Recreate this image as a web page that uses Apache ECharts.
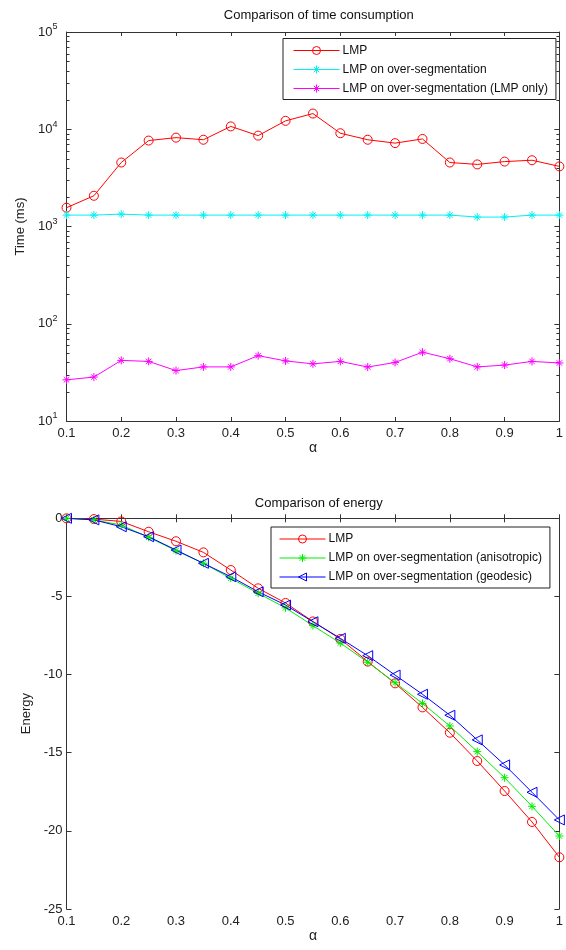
<!DOCTYPE html>
<html>
<head>
<meta charset="utf-8">
<script src="https://cdn.jsdelivr.net/npm/echarts@6/dist/echarts.min.js"></script>
<style>
html,body{margin:0;padding:0;background:#fff;}
#c{width:566px;height:950px;}
</style>
</head>
<body>
<div id="c"></div>
<script>
// ---- data ----
var alpha = [0.1,0.15,0.2,0.25,0.3,0.35,0.4,0.45,0.5,0.55,0.6,0.65,0.7,0.75,0.8,0.85,0.9,0.95,1.0];
var xTicks = ['0.1','0.2','0.3','0.4','0.5','0.6','0.7','0.8','0.9','1'];
var timeLMP = [1560,2070,4550,7650,8200,7800,10700,8600,12200,14500,9100,7800,7200,7950,4550,4350,4650,4800,4150];
var timeOverSeg = [1310,1310,1340,1310,1310,1310,1310,1310,1310,1310,1310,1310,1310,1310,1310,1250,1250,1310,1310];
var timeLMPOnly = [26.5,28.3,42,41,33,36,36,47,41.5,38.7,41,35.9,40,51,43.7,36,37.6,41,39.5];
var energyLMP = [0,-0.05,-0.2,-0.86,-1.47,-2.18,-3.31,-4.48,-5.42,-6.6,-7.72,-9.17,-10.56,-12.1,-13.72,-15.53,-17.45,-19.43,-21.69];
var energyAniso = [0,-0.1,-0.43,-1.22,-2.07,-2.88,-3.84,-4.8,-5.73,-6.87,-7.98,-9.21,-10.52,-11.84,-13.29,-14.93,-16.6,-18.43,-20.33];
var energyGeo = [0,-0.1,-0.54,-1.18,-2.03,-2.88,-3.74,-4.7,-5.55,-6.62,-7.68,-8.79,-10.03,-11.26,-12.6,-14.18,-15.78,-17.53,-19.3];
var timeNames = ['LMP','LMP on over-segmentation','LMP on over-segmentation (LMP only)'];
var energyNames = ['LMP','LMP on over-segmentation (anisotropic)','LMP on over-segmentation (geodesic)'];

var FONT = '"Liberation Sans", Arial, sans-serif';
var AX = '#333';
var STAR = 'path://M0,5L10,5M5,0L5,10M1.6,1.6L8.4,8.4M8.4,1.6L1.6,8.4';

function pair(a, b){ return a.map(function(v,i){ return [v, b[i]]; }); }

function xAxes(grid, gap){
  var base = {
    type:'value', gridIndex:grid, min:0.1, max:1, interval:0.1,
    axisLine:{show:true, lineStyle:{color:AX, width:1}},
    axisTick:{show:true, inside:true, length:4, lineStyle:{color:AX}},
    splitLine:{show:false}
  };
  var bottom = Object.assign({}, base, {
    position:'bottom',
    name:'\u03B1', nameLocation:'middle', nameGap:gap,
    nameTextStyle:{fontFamily:FONT, fontSize:14, color:'#222'},
    axisLabel:{fontFamily:FONT, fontSize:13, color:'#222', margin:6,
      formatter:function(v){ return xTicks[Math.round((v-0.1)/0.1)] || ''; }}
  });
  var top = Object.assign({}, base, {position:'top', axisLabel:{show:false}});
  return [bottom, top];
}

function seriesLine(name, data, color, symbol, size, rotate, xi, yi){
  return {
    type:'line', name:name, data:data, xAxisIndex:xi, yAxisIndex:yi,
    symbol:symbol, symbolSize:size, symbolRotate:rotate||0, showAllSymbol:true,
    color:color,
    lineStyle:{color:color, width:1},
    itemStyle:{color:(symbol===STAR? color : 'rgba(255,255,255,0)'), borderColor:color, borderWidth:1},
    emphasis:{disabled:true}, animation:false, z:3
  };
}

var chart = echarts.init(document.getElementById('c'), null, {renderer:'canvas'});
var xa = xAxes(0, 17).concat(xAxes(1, 19));

var legendBase = {
  orient:'vertical', itemGap:7, itemWidth:46, itemHeight:10,
  backgroundColor:'#fff', borderColor:'#222', borderWidth:1,
  lineStyle:{width:1}, itemStyle:{borderWidth:1},
  textStyle:{fontFamily:FONT, fontSize:12, color:'#111', padding:[0,0,0,-2]},
  selectedMode:false, z:10
};

var option = {
  animation:false,
  backgroundColor:'#fff',
  title:[
    {text:'Comparison of time consumption', left:313.8, top:4, textAlign:'center',
     textStyle:{fontFamily:FONT, fontSize:13, fontWeight:'normal', color:'#111'}},
    {text:'Comparison of energy', left:313.8, top:492, textAlign:'center',
     textStyle:{fontFamily:FONT, fontSize:13, fontWeight:'normal', color:'#111'}}
  ],
  grid:[
    {left:66.5, right:4, top:32, height:389},
    {left:66.5, right:4, top:518.3, height:390.7}
  ],
  legend:[
    Object.assign({}, legendBase, {data:timeNames.map(function(n){return {name:n};}),
      left:283, top:38.5, padding:[6,8,5,10]}),
    Object.assign({}, legendBase, {data:energyNames.map(function(n){return {name:n};}),
      left:271, top:527, padding:[6,8,5,8]})
  ],
  xAxis:xa,
  yAxis:[
    {type:'log', logBase:10, gridIndex:0, min:10, max:100000, position:'left',
     name:'Time (ms)', nameLocation:'middle', nameGap:33,
     nameTextStyle:{fontFamily:FONT, fontSize:13, color:'#222'},
     axisLine:{show:true, lineStyle:{color:AX}},
     axisTick:{show:true, inside:true, length:5, lineStyle:{color:AX}},
     splitLine:{show:false},
     axisLabel:{margin:9, formatter:function(v){ return '{b|10}{s|' + Math.round(Math.log10(v)) + '}'; },
       rich:{b:{fontFamily:FONT, fontSize:13, color:'#222'},
             s:{fontFamily:FONT, fontSize:9, color:'#222', padding:[0,0,10,0]}}}},
    {type:'log', logBase:10, gridIndex:0, min:10, max:100000, position:'right',
     axisLine:{show:true, lineStyle:{color:AX}},
     axisTick:{show:true, inside:true, length:5, lineStyle:{color:AX}},
     splitLine:{show:false}, axisLabel:{show:false}},
    {type:'value', gridIndex:1, min:-25, max:0, interval:5, position:'left',
     name:'Energy', nameLocation:'middle', nameGap:33,
     nameTextStyle:{fontFamily:FONT, fontSize:13, color:'#222'},
     axisLine:{show:true, lineStyle:{color:AX}},
     axisTick:{show:true, inside:true, length:5, lineStyle:{color:AX}},
     splitLine:{show:false},
     axisLabel:{fontFamily:FONT, fontSize:13, color:'#222', margin:4}},
    {type:'value', gridIndex:1, min:-25, max:0, interval:5, position:'right',
     axisLine:{show:true, lineStyle:{color:AX}},
     axisTick:{show:true, inside:true, length:5, lineStyle:{color:AX}},
     splitLine:{show:false}, axisLabel:{show:false}}
  ],
  series:[
    seriesLine(timeNames[0], pair(alpha,timeLMP), '#ff0000', 'circle', 9, 0, 0, 0),
    seriesLine(timeNames[1], pair(alpha,timeOverSeg), '#00f0f0', STAR, 8, 0, 0, 0),
    seriesLine(timeNames[2], pair(alpha,timeLMPOnly), '#ff00ff', STAR, 8, 0, 0, 0),
    seriesLine(energyNames[0], pair(alpha,energyLMP), '#ff0000', 'circle', 9, 0, 2, 2),
    seriesLine(energyNames[1], pair(alpha,energyAniso), '#00ee00', STAR, 8, 0, 2, 2),
    seriesLine(energyNames[2], pair(alpha,energyGeo), '#0000ff', 'triangle', 10, 90, 2, 2)
  ]
};
chart.setOption(option);

// minor ticks on log axes (at 2..9 x each decade), placed through the axis scale
var lx = chart.convertToPixel({xAxisIndex:0}, 0.1);
var rx = chart.convertToPixel({xAxisIndex:0}, 1.0);
var els = [];
[10,100,1000,10000].forEach(function(d){
  for (var m=2; m<=9; m++){
    var y = Math.round(chart.convertToPixel({yAxisIndex:0}, d*m)) + 0.5;
    els.push({type:'line', shape:{x1:lx, y1:y, x2:lx+3, y2:y}, style:{stroke:AX, lineWidth:1}, silent:true});
    els.push({type:'line', shape:{x1:rx-3, y1:y, x2:rx, y2:y}, style:{stroke:AX, lineWidth:1}, silent:true});
  }
});
chart.setOption({graphic:{elements:els}});
</script>
</body>
</html>
